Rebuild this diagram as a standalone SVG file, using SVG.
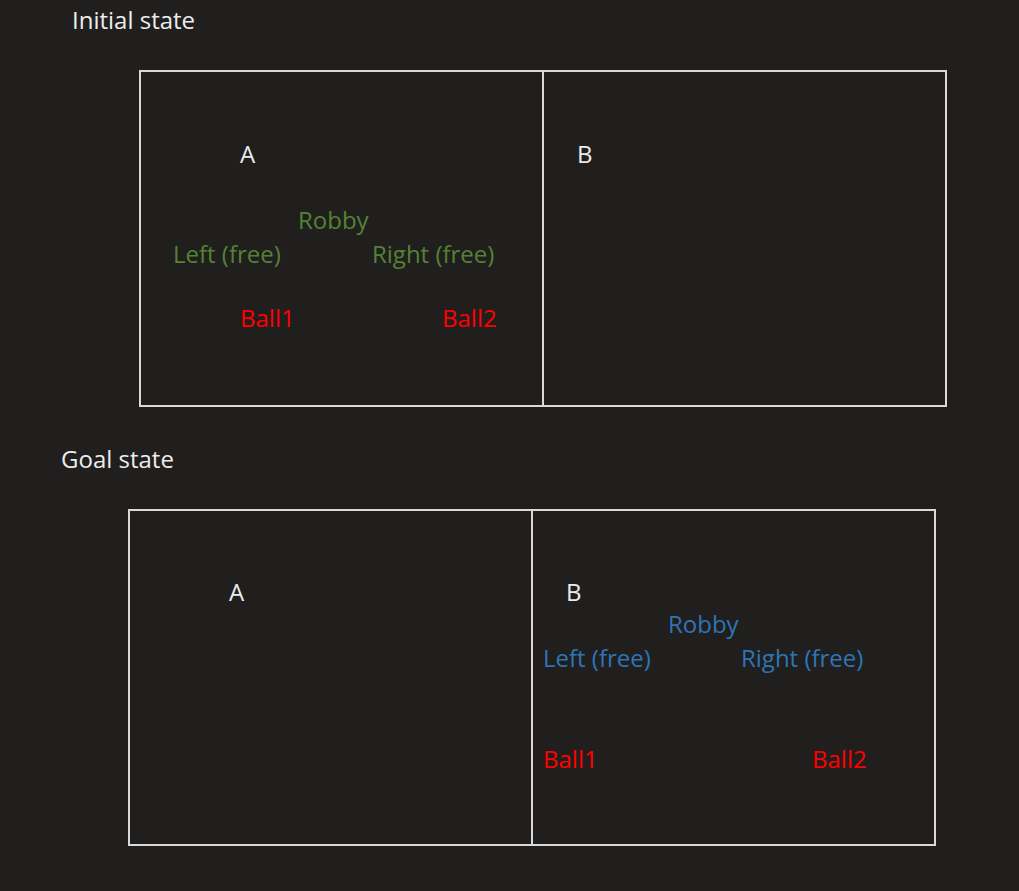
<svg xmlns="http://www.w3.org/2000/svg" width="1019" height="891" viewBox="0 0 1019 891">
<style>
text{font-family:"Open Sans","Noto Sans","Liberation Sans",sans-serif;font-size:24px}
.w{fill:#ececec}
.g{fill:#548235}
.b{fill:#2e75b6}
.r{fill:#ff0000}
.box{fill:none;stroke:#d9d9d9;stroke-width:2}
</style>
<rect width="1019" height="891" fill="#201f1e"/>
<g id="initial">
<text class="w" x="72" y="29">Initial state</text>
<rect class="box" x="140" y="71" width="806" height="335"/>
<line class="box" x1="543" y1="71" x2="543" y2="406"/>
<text class="w" x="240" y="163">A</text>
<text class="w" x="577" y="163">B</text>
<text class="g" x="298" y="229">Robby</text>
<text class="g" x="173" y="263">Left (free)</text>
<text class="g" x="372" y="263">Right (free)</text>
<text class="r" x="240" y="327">Ball1</text>
<text class="r" x="442" y="327">Ball2</text>
</g>
<g id="goal">
<text class="w" x="61" y="468">Goal state</text>
<rect class="box" x="129" y="510" width="806" height="335"/>
<line class="box" x1="532" y1="510" x2="532" y2="845"/>
<text class="w" x="229" y="601">A</text>
<text class="w" x="566" y="601">B</text>
<text class="b" x="668" y="633">Robby</text>
<text class="b" x="543" y="667">Left (free)</text>
<text class="b" x="741" y="667">Right (free)</text>
<text class="r" x="543" y="768">Ball1</text>
<text class="r" x="812" y="768">Ball2</text>
</g>
</svg>
